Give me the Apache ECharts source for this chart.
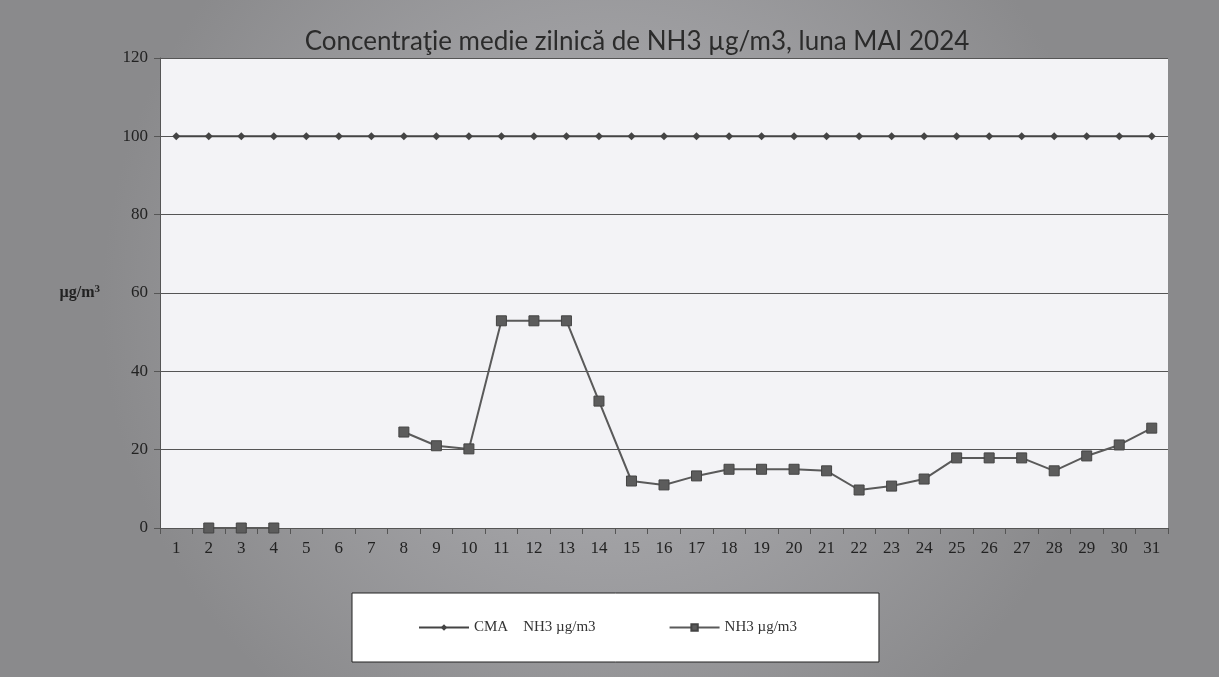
<!DOCTYPE html>
<html><head><meta charset="utf-8">
<script src="https://cdn.jsdelivr.net/npm/echarts@6/dist/echarts.min.js"></script>
<style>html,body{margin:0;padding:0;background:#9a9a9a}#c{width:1219px;height:677px}</style>
</head><body><div id="c"></div>
<script>
var days = ['1','2','3','4','5','6','7','8','9','10','11','12','13','14','15','16','17','18','19','20','21','22','23','24','25','26','27','28','29','30','31'];
var cmaValues = [100,100,100,100,100,100,100,100,100,100,100,100,100,100,100,100,100,100,100,100,100,100,100,100,100,100,100,100,100,100,100];
var nh3Values = [null,0,0,0,null,null,null,24.5,21,20.2,52.9,52.9,52.9,32.4,12,11,13.3,15,15,15,14.6,9.7,10.7,12.5,17.9,17.9,17.9,14.6,18.4,21.2,25.5];
var yTicks = [0,20,40,60,80,100,120];
var titleText = 'Concentraţie medie zilnică de NH3 µg/m3, luna MAI 2024';
var seriesNames = ['CMA    NH3 µg/m3', 'NH3 µg/m3'];

var chart = echarts.init(document.getElementById('c'));
chart.setOption({
  backgroundColor: {
    type: 'radial', x: 0.5, y: 0.45, r: 0.75,
    colorStops: [{offset: 0, color: '#b4b4b8'}, {offset: 1, color: '#8a8a8c'}]
  },
  animation: false,
  title: {
    text: titleText, left: 632, top: 24, textAlign: 'center',
    textStyle: {fontFamily: 'Lato, "Open Sans", sans-serif', fontWeight: 'normal', fontSize: 26, color: '#2b2b2b'}
  },
  grid: {left: 160, right: 51, top: 58, bottom: 149, show: true, backgroundColor: '#f3f3f6', borderWidth: 0},
  legend: {
    data: seriesNames, left: 352, top: 593,
    backgroundColor: '#ffffff', borderColor: '#222', borderWidth: 1,
    padding: [27, 82, 27, 66], itemGap: 73, itemWidth: 50, itemHeight: 8,
    textStyle: {fontFamily: '"Liberation Serif", serif', fontSize: 15, color: '#333'}
  },
  xAxis: {
    type: 'category', data: days, boundaryGap: true,
    axisLine: {lineStyle: {color: '#555', width: 1}},
    axisTick: {show: true, interval: 0, length: 6, lineStyle: {color: '#555'}},
    axisLabel: {interval: 0, fontFamily: '"Liberation Serif", serif', fontSize: 17, color: '#222', margin: 12}
  },
  yAxis: {
    type: 'value', min: 0, max: 120, interval: 20,
    name: '{a|µg/m}{s|3}', nameLocation: 'middle', nameGap: 60, nameRotate: 0,
    nameTextStyle: {rich: {
      a: {fontFamily: '"Liberation Serif", serif', fontWeight: 'bold', fontSize: 16, color: '#222'},
      s: {fontFamily: '"Liberation Serif", serif', fontWeight: 'bold', fontSize: 11, color: '#222', verticalAlign: 'top', padding: [0,0,8,0]}
    }},
    axisLine: {show: true, lineStyle: {color: '#555'}},
    axisTick: {show: true, length: 6, lineStyle: {color: '#555'}},
    axisLabel: {fontFamily: '"Liberation Serif", serif', fontSize: 17, color: '#222', margin: 12,
      formatter: function (v) { return yTicks.indexOf(v) >= 0 ? String(v) : ''; }},
    splitLine: {show: true, lineStyle: {color: '#555', width: 1.2}}
  },
  series: [
    {
      name: seriesNames[0], type: 'line', data: cmaValues,
      symbol: 'diamond', symbolSize: 8,
      lineStyle: {color: '#444', width: 2}, itemStyle: {color: '#444'}
    },
    {
      name: seriesNames[1], type: 'line', data: nh3Values, connectNulls: false,
      symbol: 'rect', symbolSize: 10,
      lineStyle: {color: '#5a5a5a', width: 2}, itemStyle: {color: '#5c5c5c', borderColor: '#444', borderWidth: 1}
    }
  ]
});
</script></body></html>
